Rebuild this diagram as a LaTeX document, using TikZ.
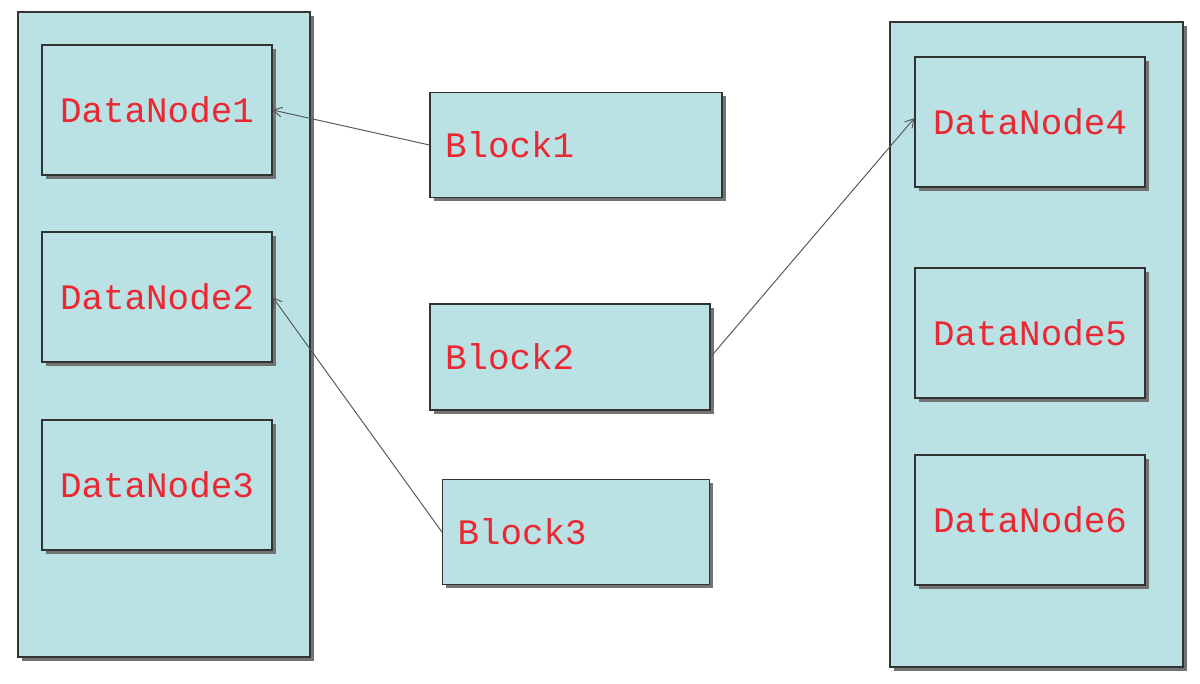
\documentclass[tikz,border=0pt]{standalone}
\usepackage{fontspec}
\setmonofont{Liberation Mono}
\usetikzlibrary{shadows,arrows.meta}
\definecolor{boxfill}{RGB}{186,226,229}
\definecolor{txtred}{RGB}{235,40,50}
\tikzset{
  panel/.style={draw=black!80, fill=boxfill, line width=0.8pt,
    drop shadow={shadow xshift=2.5pt, shadow yshift=-2.5pt, fill=black!55, opacity=1}},
  dnode/.style={panel, minimum width=230*0.025cm, minimum height=130*0.025cm,
    text=txtred, font=\ttfamily\fontsize{25.5}{27}\selectfont, inner sep=0pt},
  blk/.style={dnode, align=left, text width=#1*0.025cm-30*0.025cm, inner xsep=15*0.025cm},
  link/.style={draw=black!65, line width=0.7pt, -{Straight Barb[length=6pt,width=7pt]}}
}
\begin{document}
\begin{tikzpicture}[x=0.025cm,y=-0.025cm]
    \useasboundingbox[fill=white] (0,0) rectangle (1200,683);
    % racks
    \draw[panel] (18,12) rectangle (310,657);
    \draw[panel] (890,22) rectangle (1183,667);
    % datanodes
    \foreach \n/\x/\y in {1/157/110, 2/157/297, 3/157/485, 4/1030/122, 5/1030/333, 6/1030/520}
    {
        \node[dnode] (dn\n) at (\x,\y) {DataNode\n};
    }
    % blocks
    \node[blk=292, minimum height=105*0.025cm] (b1) at (576,145) {Block1};
    \node[blk=280, minimum height=106*0.025cm] (b2) at (570,357) {Block2};
    \node[blk=267, minimum height=105*0.025cm] (b3) at (576,532) {Block3};
    % replicas
    \draw[link] (b1.west) -- (dn1.east);
    \draw[link] (b3.west) -- (dn2.east);
    \draw[link] (b2.east) -- ([yshift=0.1cm]dn4.west);
\end{tikzpicture}
\end{document}
